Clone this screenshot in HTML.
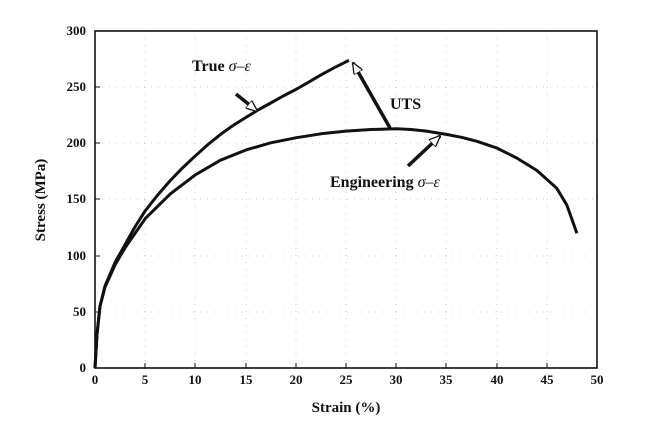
<!DOCTYPE html>
<html><head><style>body{margin:0;background:#fff}svg{display:block}text{font-family:"Liberation Serif",serif;font-weight:bold;fill:#111}</style></head><body>
<svg width="658" height="438" viewBox="0 0 658 438">
<defs>
<marker id="h" markerWidth="12" markerHeight="10" refX="11" refY="5" orient="auto" markerUnits="userSpaceOnUse"><path d="M0,0 L12,5 L0,10 Z" fill="#fff" stroke="#111" stroke-width="1.3"/></marker>
</defs>
<g stroke="#bbb" stroke-width="0.8" stroke-dasharray="1,6">
<line x1="145" y1="31" x2="145" y2="368"/><line x1="195" y1="31" x2="195" y2="368"/><line x1="246" y1="31" x2="246" y2="368"/><line x1="296" y1="31" x2="296" y2="368"/><line x1="346" y1="31" x2="346" y2="368"/><line x1="396" y1="31" x2="396" y2="368"/><line x1="446" y1="31" x2="446" y2="368"/><line x1="497" y1="31" x2="497" y2="368"/><line x1="547" y1="31" x2="547" y2="368"/>
<line x1="95" y1="312" x2="597" y2="312"/><line x1="95" y1="256" x2="597" y2="256"/><line x1="95" y1="199" x2="597" y2="199"/><line x1="95" y1="143" x2="597" y2="143"/><line x1="95" y1="87" x2="597" y2="87"/>
</g>
<rect x="95" y="31" width="502" height="337" fill="none" stroke="#111" stroke-width="1.6"/>
<g stroke="#111" stroke-width="1">
<path d="M145,368v-5M195,368v-5M246,368v-5M296,368v-5M346,368v-5M396,368v-5M446,368v-5M497,368v-5M547,368v-5M95,312h5M95,256h5M95,199h5M95,143h5M95,87h5"/>
</g>
<g font-size="13" text-anchor="middle">
<text x="95" y="384">0</text><text x="145" y="384">5</text><text x="195" y="384">10</text><text x="246" y="384">15</text><text x="296" y="384">20</text><text x="346" y="384">25</text><text x="396" y="384">30</text><text x="446" y="384">35</text><text x="497" y="384">40</text><text x="547" y="384">45</text><text x="597" y="384">50</text>
</g>
<g font-size="13" text-anchor="end">
<text x="86" y="372">0</text><text x="86" y="316">50</text><text x="86" y="260">100</text><text x="86" y="203">150</text><text x="86" y="147">200</text><text x="86" y="91">250</text><text x="86" y="35">300</text>
</g>
<text x="346" y="412" font-size="15" text-anchor="middle">Strain (%)</text>
<text transform="translate(45,200) rotate(-90)" font-size="15" text-anchor="middle">Stress (MPa)</text>
<g fill="none" stroke="#111" stroke-width="3" stroke-linejoin="round">
<polyline points="95,368 97,334.3 100,306.2 105,287.1 115.1,264.7 125.1,247.8 145.2,218.6 170.3,193.9 195.4,174.8 220.5,160.2 245.6,150.1 270.7,142.8 295.8,137.8 321,133.8 346,131.1 371,129.5 396.2,128.8 411,129.5 426.3,131.1 446.4,134.4 461.5,137.3 476.5,141.2 496.6,147.9 516.7,158 536.8,170.4 556.8,188.3 566.9,205.2 576.9,233.2"/>
<polyline points="95,368 97,334.3 100,306.2 105,286 115.1,262.4 125.1,244.5 135.2,226.5 145.2,210.8 157.7,195 170.3,180.5 182.8,167.6 195.4,155.8 208,144.5 220.5,134.4 233,125.5 245.6,117.6 258,110 270.7,103 283.2,96 295.8,89.5 308.4,82.3 320.9,74.9 335,67.3 349,60.3"/>
</g>
<g stroke="#111" stroke-width="3.5" fill="none">
<line x1="236" y1="94" x2="257" y2="111" marker-end="url(#h)"/>
<line x1="390" y1="128" x2="353" y2="63" marker-end="url(#h)"/>
<line x1="408" y1="166" x2="440" y2="136" marker-end="url(#h)"/>
</g>
<text x="192" y="71" font-size="16">True <tspan font-style="italic" font-weight="normal">σ–ε</tspan></text>
<text x="390" y="109" font-size="16">UTS</text>
<text x="330" y="187" font-size="16">Engineering <tspan font-style="italic" font-weight="normal">σ–ε</tspan></text>
</svg>
</body></html>
